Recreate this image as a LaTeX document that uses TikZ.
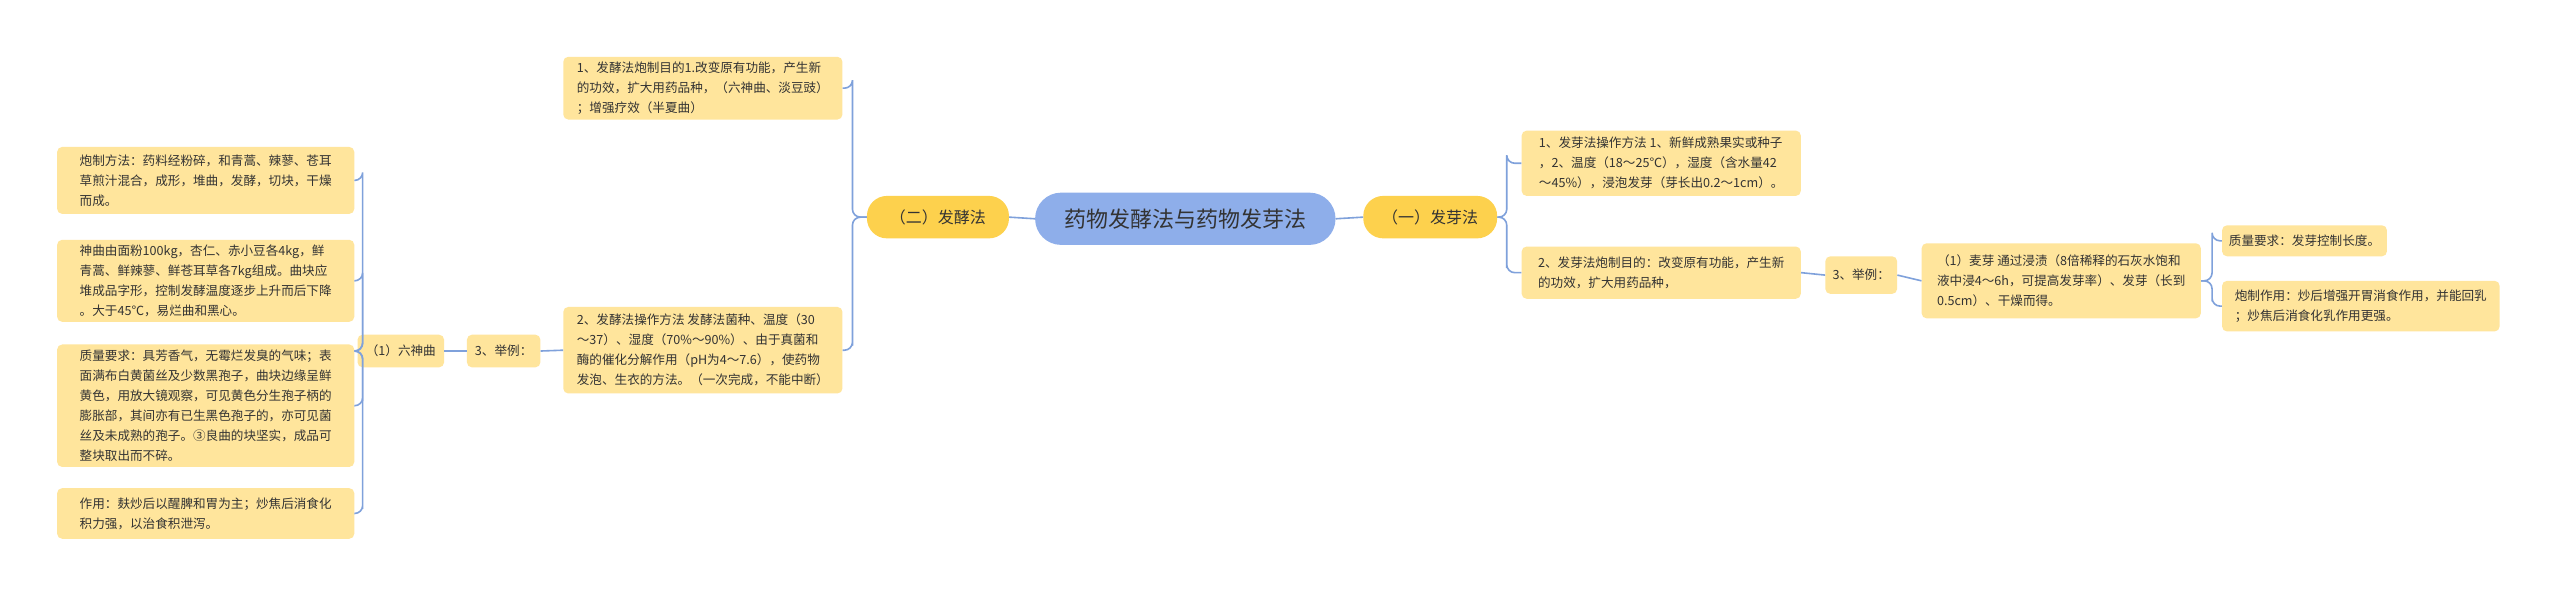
\documentclass[tikz,border=0pt]{standalone}
\usepackage{fontspec}
\setmainfont{Noto Sans CJK SC}
\usetikzlibrary{calc}
\definecolor{leaf}{HTML}{FFE59C}
\definecolor{branch}{HTML}{FDD14D}
\definecolor{root}{HTML}{8EAEEA}
\definecolor{ln}{HTML}{7FA1DB}
\definecolor{txt}{HTML}{333333}
\tikzset{
 leafbox/.style={fill=leaf,rounded corners=5pt,align=left,inner sep=5pt,text=txt,font=\fontsize{12.6}{20}\selectfont},
 branchbox/.style={fill=branch,rounded corners=20pt,text=txt,font=\fontsize{16}{20}\selectfont},
 rootbox/.style={fill=root,rounded corners=26pt,text=txt,font=\fontsize{22}{26}\selectfont},
 conn/.style={draw=ln,line width=1.6pt,rounded corners=8pt}
}
\newcommand\bx[7]{\node[#2,minimum width={(#5-#3)*1.633pt},minimum height={(#6-#4)*1.633pt}] (#1) at ({(#3+#5)/2},{(#4+#6)/2}) {#7};}
\newcommand\lc[3]{\draw[conn] (#1.west) -| ($(#2.east)+(#3,0)$) |- (#2.east);}
\newcommand\rc[3]{\draw[conn] (#1.east) -| ($(#2.west)+(-#3,0)$) |- (#2.west);}
\begin{document}
\begin{tikzpicture}[x=1.633pt,y=-1.633pt]
\useasboundingbox[fill=white] (0,0) rectangle (1568,366);
\bx{A1}{leafbox}{35}{90}{217}{131}{炮制方法：药料经粉碎，和青蒿、辣蓼、苍耳\\草煎汁混合，成形，堆曲，发酵，切块，干燥\\而成。}
\bx{A2}{leafbox}{35}{147}{217}{197}{神曲由面粉100kg，杏仁、赤小豆各4kg，鲜\\青蒿、鲜辣蓼、鲜苍耳草各7kg组成。曲块应\\堆成品字形，控制发酵温度逐步上升而后下降\\。大于45℃，易烂曲和黑心。}
\bx{A3}{leafbox}{35}{211}{217}{286}{质量要求：具芳香气，无霉烂发臭的气味；表\\面满布白黄菌丝及少数黑孢子，曲块边缘呈鲜\\黄色，用放大镜观察，可见黄色分生孢子柄的\\膨胀部，其间亦有已生黑色孢子的，亦可见菌\\丝及未成熟的孢子。③良曲的块坚实，成品可\\整块取出而不碎。}
\bx{A4}{leafbox}{35}{299}{217}{330}{作用：麸炒后以醒脾和胃为主；炒焦后消食化\\积力强，以治食积泄泻。}
\bx{L6}{leafbox}{219}{205}{272}{225}{（1）六神曲}
\bx{E1}{leafbox}{286}{205}{331}{225}{3、举例：}
\bx{B1}{leafbox}{345}{35}{516}{73}{1、发酵法炮制目的1.改变原有功能，产生新\\的功效，扩大用药品种，（六神曲、淡豆豉）\\；增强疗效（半夏曲）}
\bx{B2}{leafbox}{345}{188}{516}{241}{2、发酵法操作方法 发酵法菌种、温度（30\\～37）、湿度（70\%～90\%）、由于真菌和\\酶的催化分解作用（pH为4～7.6），使药物\\发泡、生衣的方法。（一次完成，不能中断）}
\bx{F2}{branchbox}{531}{120}{618}{146}{（二）发酵法}
\bx{R}{rootbox}{634}{118}{818}{150}{药物发酵法与药物发芽法}
\bx{F1}{branchbox}{835}{120}{917}{146}{（一）发芽法}
\bx{C1}{leafbox}{932}{80}{1103}{120}{1、发芽法操作方法 1、新鲜成熟果实或种子\\，2、温度（18～25℃），湿度（含水量42\\～45\%），浸泡发芽（芽长出0.2～1cm）。}
\bx{C2}{leafbox}{932}{151}{1103}{183}{2、发芽法炮制目的：改变原有功能，产生新\\的功效，扩大用药品种，}
\bx{E2}{leafbox}{1118}{157}{1162}{180}{3、举例：}
\bx{M}{leafbox}{1177}{149}{1348}{195}{（1）麦芽 通过浸渍（8倍稀释的石灰水饱和\\液中浸4～6h，可提高发芽率）、发芽（长到\\0.5cm）、干燥而得。}
\bx{D1}{leafbox}{1361}{138}{1462}{157}{质量要求：发芽控制长度。}
\bx{D2}{leafbox}{1361}{172}{1531}{203}{炮制作用：炒后增强开胃消食作用，并能回乳\\；炒焦后消食化乳作用更强。}
\draw[conn] (R.west) -- (F2.east);
\draw[conn] (R.east) -- (F1.west);
\lc{F2}{B1}{6}\lc{F2}{B2}{6}
\draw[conn] (B2.west) -- (E1.east);
\draw[conn] (E1.west) -- (L6.east);
\lc{L6}{A1}{5}\lc{L6}{A2}{5}\lc{L6}{A3}{5}\lc{L6}{A4}{5}
\rc{F1}{C1}{9}\rc{F1}{C2}{9}
\draw[conn] (C2.east) -- (E2.west);
\draw[conn] (E2.east) -- (M.west);
\rc{M}{D1}{6}\rc{M}{D2}{6}
\end{tikzpicture}
\end{document}
